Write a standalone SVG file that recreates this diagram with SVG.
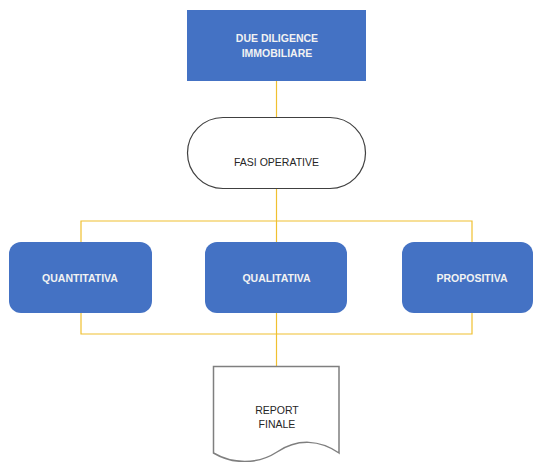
<svg xmlns="http://www.w3.org/2000/svg" width="534" height="462" viewBox="0 0 534 462">
<style>
.blue{fill:#4472C4;}
.wt{fill:#F2F2F2;font-family:"Liberation Sans",Arial,sans-serif;font-weight:bold;font-size:10.5px;text-anchor:middle;}
.dk{fill:#262626;font-family:"Liberation Sans",Arial,sans-serif;font-size:10.5px;text-anchor:middle;}
.conn{stroke:#F0C030;stroke-width:1.2;fill:none;}
</style>
<rect width="534" height="462" fill="#FFFFFF"/>
<g id="connectors">
<line class="conn" x1="276.5" y1="81" x2="276.5" y2="117"/>
<line class="conn" x1="276.5" y1="188" x2="276.5" y2="242"/>
<polyline class="conn" points="81,242 81,221 472,221 472,242"/>
<polyline class="conn" points="81,313 81,334 472,334 472,313"/>
<line class="conn" x1="276.5" y1="313" x2="276.5" y2="366"/>
</g>
<g id="due-diligence">
<rect class="blue" x="187" y="10" width="179" height="71"/>
<text class="wt" x="277" y="42">DUE DILIGENCE</text>
<text class="wt" x="277" y="57">IMMOBILIARE</text>
</g>
<g id="fasi-operative">
<rect x="187.5" y="117.5" width="178" height="71" rx="35.5" fill="#FFFFFF" stroke="#404040" stroke-width="1.2"/>
<text class="dk" x="276.5" y="166">FASI OPERATIVE</text>
</g>
<g id="quantitativa">
<rect class="blue" x="9" y="242" width="143" height="71" rx="12"/>
<text class="wt" x="80" y="282">QUANTITATIVA</text>
</g>
<g id="qualitativa">
<rect class="blue" x="205" y="242" width="142" height="71" rx="12"/>
<text class="wt" x="276.5" y="282">QUALITATIVA</text>
</g>
<g id="propositiva">
<rect class="blue" x="402" y="242" width="131" height="71" rx="12"/>
<text class="wt" x="472" y="282">PROPOSITIVA</text>
</g>
<g id="report-finale">
<path d="M213.5,366.5 H339 V453 C320,440 298,438 277,452 C257,465 232,464 213.5,453 Z" fill="#FFFFFF" stroke="#7F7F7F" stroke-width="1.5"/>
<text class="dk" x="277" y="414">REPORT</text>
<text class="dk" x="277" y="428">FINALE</text>
</g>
</svg>
